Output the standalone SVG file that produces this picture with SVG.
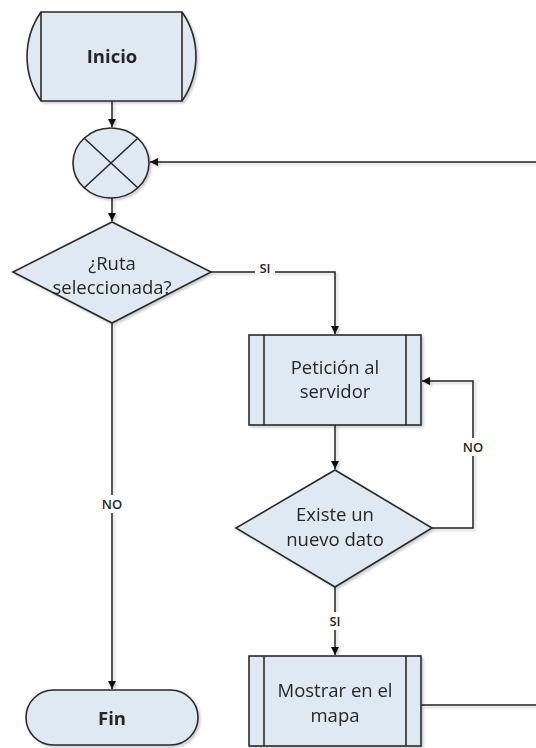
<svg xmlns="http://www.w3.org/2000/svg" width="536" height="748" viewBox="0 0 536 748">
<defs>
<filter id="sh" x="-10%" y="-10%" width="130%" height="130%">
<feDropShadow dx="2" dy="2" stdDeviation="1" flood-color="#000" flood-opacity="0.18"/>
</filter>
<marker id="arr" viewBox="0 0 10 10" refX="10" refY="5" markerWidth="8" markerHeight="8" markerUnits="userSpaceOnUse" orient="auto">
<path d="M0,0 L10,5 L0,10 z" fill="#111"/>
</marker>
</defs>
<style>
.n{fill:#dfe9f4;stroke:#2a2a2a;stroke-width:1.6}
.l{fill:none;stroke:#2a2a2a;stroke-width:1.6}
.t{font-family:"Open Sans","Noto Sans",sans-serif;font-size:18.5px;fill:#262626;text-anchor:middle}
.b{font-weight:bold}
.lab{font-family:"Open Sans","Noto Sans",sans-serif;font-size:13px;fill:#262626;text-anchor:middle;font-weight:600}
.c{fill:none;stroke:#222;stroke-width:1.5}
</style>
<rect width="536" height="748" fill="#fff"/>
<g id="connectors" filter="url(#sh)">
<path class="c" d="M112,101 V127" marker-end="url(#arr)"/>
<path class="c" d="M536,162 H150" marker-end="url(#arr)"/>
<path class="c" d="M112,198 V221" marker-end="url(#arr)"/>
<path class="c" d="M211,272 H335 V334" marker-end="url(#arr)"/>
<path class="c" d="M112,323 V689" marker-end="url(#arr)"/>
<path class="c" d="M335,425 V469" marker-end="url(#arr)"/>
<path class="c" d="M432,528 H473 V381 H422" marker-end="url(#arr)"/>
<path class="c" d="M335,587 V655" marker-end="url(#arr)"/>
<path class="c" d="M421,705 H536"/>
</g>
<g id="labels">
<rect x="255" y="263" width="20" height="12" fill="#fff"/>
<text class="lab" x="265" y="273">SI</text>
<rect x="98" y="495" width="28" height="18" fill="#fff"/>
<text class="lab" x="112" y="509">NO</text>
<rect x="459" y="438" width="28" height="18" fill="#fff"/>
<text class="lab" x="473" y="452">NO</text>
<rect x="325" y="612" width="20" height="18" fill="#fff"/>
<text class="lab" x="335" y="626">SI</text>
</g>
<g id="inicio" filter="url(#sh)">
<path class="n" d="M41,12 H182 A78,78 0 0 1 182,101 H41 A78,78 0 0 1 41,12 Z"/>
<path class="l" d="M41,12 V101 M182,12 V101"/>
<text class="t b" x="112" y="63">Inicio</text>
</g>
<g id="union" filter="url(#sh)">
<ellipse class="n" cx="111" cy="163" rx="38" ry="35"/>
<path class="l" d="M84,138 L138,188 M138,138 L84,188"/>
</g>
<g id="ruta" filter="url(#sh)">
<polygon class="n" points="112,222 211,272 112,323 13,272"/>
<text class="t" x="112" y="270">¿Ruta</text>
<text class="t" x="112" y="294">seleccionada?</text>
</g>
<g id="peticion" filter="url(#sh)">
<rect class="n" x="249" y="335" width="172" height="90"/>
<path class="l" d="M264,335 V425 M406,335 V425"/>
<text class="t" x="335" y="374">Petición al</text>
<text class="t" x="335" y="398">servidor</text>
</g>
<g id="existe" filter="url(#sh)">
<polygon class="n" points="335,470 432,528 335,587 236,528"/>
<text class="t" x="335" y="521">Existe un</text>
<text class="t" x="335" y="546">nuevo dato</text>
</g>
<g id="mostrar" filter="url(#sh)">
<rect class="n" x="249" y="656" width="172" height="90"/>
<path class="l" d="M264,656 V746 M406,656 V746"/>
<text class="t" x="335" y="697">Mostrar en el</text>
<text class="t" x="335" y="722">mapa</text>
</g>
<g id="fin" filter="url(#sh)">
<rect class="n" x="26" y="690" width="172" height="55" rx="27.5" ry="27.5"/>
<text class="t b" x="112" y="725">Fin</text>
</g>
</svg>
